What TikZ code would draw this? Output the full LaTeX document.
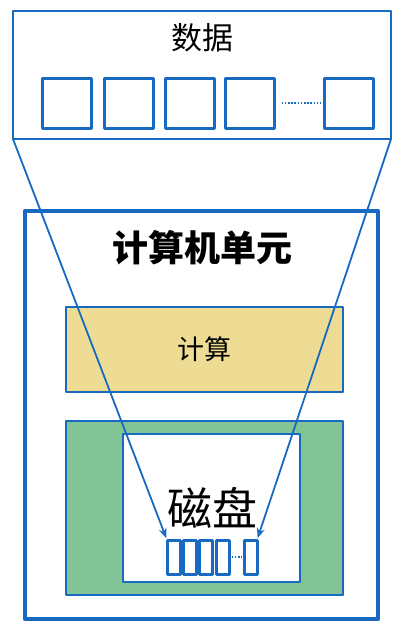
\documentclass[tikz,border=0pt]{standalone}
\usepackage{fontspec}
\setmainfont{Noto Sans CJK SC}
\usetikzlibrary{arrows.meta,shadows}
\definecolor{boxblue}{RGB}{24,106,192}
\definecolor{calcyellow}{RGB}{238,220,148}
\definecolor{diskgreen}{RGB}{130,196,150}

\begin{document}
\begin{tikzpicture}[x=1pt, y=-1pt,
				line join=round,
				every node/.style = {inner sep=0pt, outer sep=0pt},
				box/.style = {draw=boxblue, line width=2.4pt, fill=white,
					drop shadow={opacity=0.25, shadow xshift=1pt, shadow yshift=-1pt}},
				cell/.style = {box, line width=3pt, minimum width=49pt, minimum height=50pt},
				slot/.style = {box, line width=3pt, minimum width=13pt, minimum height=34pt},
				dots/.style = {draw=boxblue, line width=2.4pt, dash pattern=on 1.6pt off 1.6pt},
				link/.style = {draw=boxblue, line width=1.8pt, -{Stealth[length=10pt,width=8pt]}}
				]
				\path[use as bounding box, fill=white] (0,0) rectangle (408,632);
				\node[box, minimum width=378pt, minimum height=128pt] (data) at (202,75) {};
				\node[font=\fontsize{31}{31}\selectfont] (datatitle) at (202,38) {数据};
				\foreach \x [count=\i] in {67,128.5,189.5,250,349}
					\node[cell] (d\i) at (\x,103) {};
				\draw[dots, shorten <=7pt, shorten >=4pt] (d4.east) -- (d5.west);
				\node[box, line width=4.5pt, minimum width=353pt, minimum height=408pt] (unit) at (201.5,415) {};
				\node[font=\fontsize{36}{36}\selectfont\bfseries] (unittitle) at (202,248) {计算机单元};
				\node[box, fill=calcyellow, minimum width=277pt, minimum height=85pt,
					font=\fontsize{27}{27}\selectfont] (calc) at (204.5,349.5) {计算};
				\node[box, fill=diskgreen, minimum width=277pt, minimum height=174pt] (green) at (204.5,508) {};
				\node[box, minimum width=177pt, minimum height=148pt] (disk) at (211.5,508) {};
				\node[font=\fontsize{45}{45}\selectfont] (disktitle) at (212,508) {磁盘};
				\foreach \x [count=\i] in {173.5,189.5,206,223,250.5}
					\node[slot] (s\i) at (\x,557) {};
				\draw[dots, line width=1.8pt, shorten <=2pt, shorten >=2pt] (s4.east) -- (s5.west);
				\draw[link, shorten >=2pt] (data.south west) -- (s1.north west);
				\draw[link, shorten >=2pt] (data.south east) -- (s5.north east);
				\end{tikzpicture}
\end{document}
